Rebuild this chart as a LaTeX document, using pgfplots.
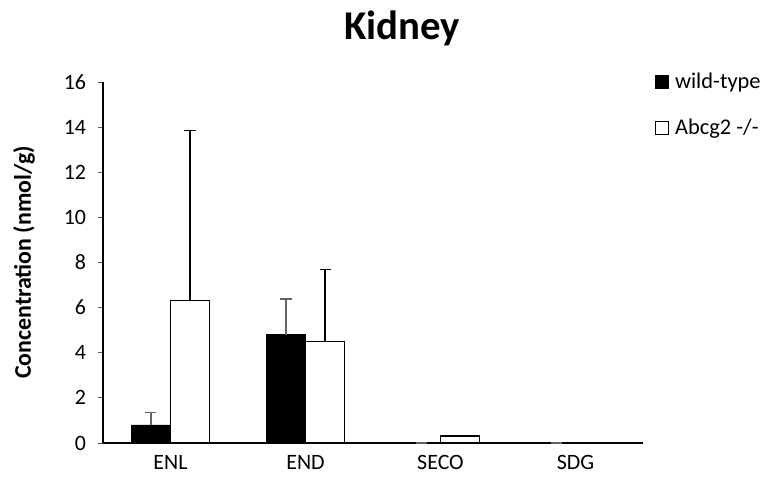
\documentclass[border=0pt]{standalone}
\usepackage{fontspec}
\setmainfont{Carlito}
\usepackage{pgfplots}
\pgfplotsset{compat=1.18}
\begin{document}
\begin{tikzpicture}[x=1bp,y=1bp]
\useasboundingbox (-103bp,-46bp) rectangle (663bp,443bp);
\begin{axis}[
  at={(0,0)}, anchor=south west,
  scale only axis, width=540bp, height=361bp,
  xmin=-0.5, xmax=3.5, ymin=0, ymax=16,
  axis lines*=left,
  x axis line style={line width=1.6pt},
  y axis line style={line width=1.1pt},
  xtick={0,1,2,3}, xticklabels={ENL,END,SECO,SDG},
  x tick style={draw=none},
  extra x ticks={-0.5,0.5,1.5,2.5,3.5},
  extra x tick labels={},
  extra x tick style={tick style={draw=black,line width=0.9pt}, major tick length=7bp, tick align=outside},
  ytick={0,2,...,16},
  y tick style={draw=black!65,line width=0.9pt},
  tick align=outside, major tick length=5bp,
  /pgf/number format/assume math mode=true,
  ticklabel style={font=\fontsize{22}{26}\selectfont},
  xticklabel style={yshift=-4bp},
  yticklabel style={xshift=-8.5bp},
  ylabel={\textbf{Concentration (nmol/g)}},
  ylabel style={font=\fontsize{24}{28}\selectfont, at={(-79bp,0.5)}, anchor=center, rotate=0},
  title={\textbf{Kidney}},
  title style={font=\fontsize{41}{48}\selectfont, at={(0.554,1)}, anchor=base, yshift=37bp},
  ybar, bar width=39bp,
  legend style={at={(1.0222,1.031)}, anchor=north west, draw=none, fill=none, inner sep=0pt, font=\fontsize{22.5}{27}\selectfont, row sep=25bp, cells={anchor=west}},
  legend image code/.code={\draw[#1, line width=0.7pt] (0bp,-6.5bp) rectangle (13bp,6.5bp); \path (17bp,0bp);},
  clip=false,
]
\addplot[fill=black, draw=black, bar shift=-19.5bp,
  error bars/.cd, y dir=plus, y explicit, error mark options={rotate=90,mark size=5.5bp,line width=1.2pt,black!60}, error bar style={line width=1.8pt,black!60}]
  coordinates {(0,0.80) +- (0,0.56) (1,4.80) +- (0,1.58) (2,0) +- (0,0) (3,0) +- (0,0)};
\addplot[fill=white, draw=black, line width=1.1pt, bar shift=19.5bp,
  error bars/.cd, y dir=plus, y explicit, error mark options={rotate=90,mark size=5.5bp,line width=1.1pt,black}, error bar style={line width=1.1pt,black}]
  coordinates {(0,6.32) +- (0,7.55) (1,4.49) +- (0,3.21) (2,0.31) +- (0,0) (3,0) +- (0,0)};
\legend{wild-type, Abcg2 -/-}
\end{axis}
\end{tikzpicture}
\end{document}
